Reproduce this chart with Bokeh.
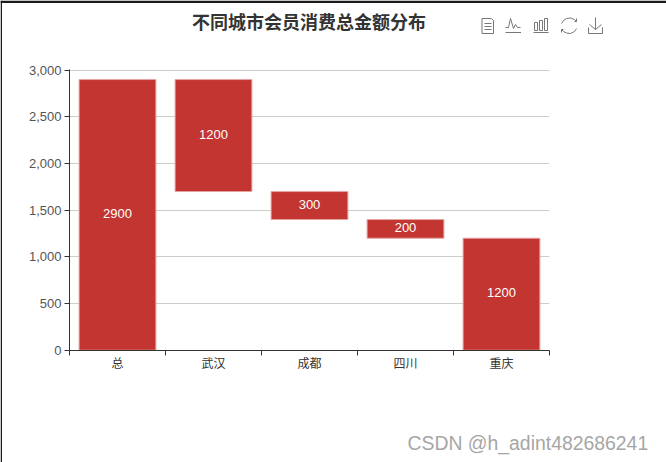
from bokeh.plotting import figure
from bokeh.layouts import column, row
from bokeh.embed import file_html
from bokeh.resources import INLINE
from bokeh.core.properties import value
from bokeh.models import Range1d, FixedTicker, NumeralTickFormatter

title = ["不同城市会员消费总金额分布"]
watermark = ["CSDN @h_adint482686241"]
cities = ["总", "武汉", "成都", "四川", "重庆"]
base = [0, 1700, 1400, 1200, 0]
amount = [2900, 1200, 300, 200, 1200]
y_ticks = [0, 500, 1000, 1500, 2000, 2500, 3000]

W, H = 666, 462
FL, FR, FT, FB = 69, 549, 69, 350
FONT = "Noto Sans CJK SC"
NUM = "Liberation Sans"
RED = "#c23531"
INK = "#333333"

p = figure(width=W, height=H, output_backend="svg", toolbar_location=None,
           x_range=Range1d(0, len(cities)), y_range=Range1d(-3, 3007.7),
           min_border_left=FL, min_border_right=W - FR, min_border_top=FT, min_border_bottom=H - FB,
           margin=(0, 0, 0, 0), outline_line_color=None, background_fill_color="white",
           border_fill_color="white")

centers = [i + 0.5 for i in range(len(cities))]
tops = [b + a for b, a in zip(base, amount)]
mids = [b + a / 2 for b, a in zip(base, amount)]
labels = [str(a) for a in amount]

p.vbar(x=centers, bottom=base, top=tops, width=0.8, fill_color=RED,
       line_color="#e5a3a1", line_width=1)
p.text(x=centers, y=mids, text=labels, text_color="white", text_align="center",
       text_baseline="middle", text_font=value(NUM), text_font_size="13px", y_offset=-1.5)

xa = p.xaxis[0]
xa.ticker = FixedTicker(ticks=centers, minor_ticks=list(range(len(cities) + 1)))
xa.major_label_overrides = {c: n for c, n in zip(centers, cities)}
xa.major_tick_line_color = None
xa.minor_tick_line_color = INK
xa.minor_tick_out = 5
xa.minor_tick_in = 0
xa.axis_line_color = INK
xa.major_label_text_font = FONT
xa.major_label_text_font_size = "12px"
xa.major_label_text_color = INK
xa.major_label_standoff = -3

ya = p.yaxis[0]
ya.ticker = FixedTicker(ticks=y_ticks, minor_ticks=[])
ya.formatter = NumeralTickFormatter(format="0,0")
ya.major_tick_line_color = INK
ya.major_tick_out = 5
ya.major_tick_in = 0
ya.axis_line_color = INK
ya.major_label_text_font = NUM
ya.major_label_text_font_size = "13px"
ya.major_label_text_color = "#555555"
ya.major_label_standoff = 3

p.xgrid.visible = False
p.ygrid.ticker = FixedTicker(ticks=y_ticks, minor_ticks=[])
p.ygrid.grid_line_color = "#cccccc"

# transparent page-sized layer on top: title, watermark, toolbox icons, window edges
o = figure(width=W, height=H, output_backend="svg", toolbar_location=None,
           x_range=Range1d(0, W), y_range=Range1d(H, 0), x_axis_type=None, y_axis_type=None,
           min_border=0, margin=(0, 0, 0, 0), outline_line_color=None,
           background_fill_alpha=0, border_fill_alpha=0)
o.grid.visible = False

o.text(x=[308.5], y=[20], text=title, text_font=value(FONT), text_font_size="18px",
       text_font_style="bold", text_color=INK, text_align="center", text_baseline="middle")
o.text(x=[407], y=[442], text=watermark, text_font=value(NUM), text_font_size="19.4px",
       text_color="#a6a6a6", text_align="left", text_baseline="middle")

o.quad(left=[0, 0], right=[W, 1.5], top=[0, 0], bottom=[2.5, H], fill_color="#1a1a1a", line_color=None)

icon_paths = [
    # data view
    [(481.5, 18), (491, 18), (493, 20), (493, 33), (481.5, 33), (481.5, 18)],
    [(484, 23), (491, 23)], [(484, 26), (491, 26)], [(484, 29), (491, 29)],
    # line
    [(505, 32), (520.5, 32)],
    [(505, 27), (508, 27), (510, 18), (513, 28), (515, 24), (517, 27), (520, 27)],
    # bar
    [(533, 32), (548, 32)],
    [(534, 30), (534, 22), (537, 22), (537, 30), (534, 30)],
    [(539, 30), (539, 20), (542, 20), (542, 30), (539, 30)],
    [(544, 30), (544, 18), (547, 18), (547, 30), (544, 30)],
    # restore
    [(561, 23), (563, 20), (566, 18), (570, 17.5), (574, 19), (576, 21)],
    [(576, 28), (574, 31), (570, 33), (566, 32.5), (563, 31), (561, 29)],
    [(574, 21), (576, 21), (576, 18)], [(563, 29), (561, 29), (561, 32)],
    # save
    [(595, 17), (595, 29)], [(589, 24), (595, 29), (601, 24)],
    [(588, 27), (588, 33), (602, 33), (602, 27)],
]
o.multi_line(xs=[[q[0] for q in a] for a in icon_paths], ys=[[q[1] for q in a] for a in icon_paths],
             line_color="#777777", line_width=1)

top = row(o, margin=(-H, 0, 0, 0))
page = column(row(p, margin=(0, 0, 0, 0)), top, spacing=0, margin=(0, 0, 0, 0))
open("out.html", "w").write(file_html(page, INLINE))
